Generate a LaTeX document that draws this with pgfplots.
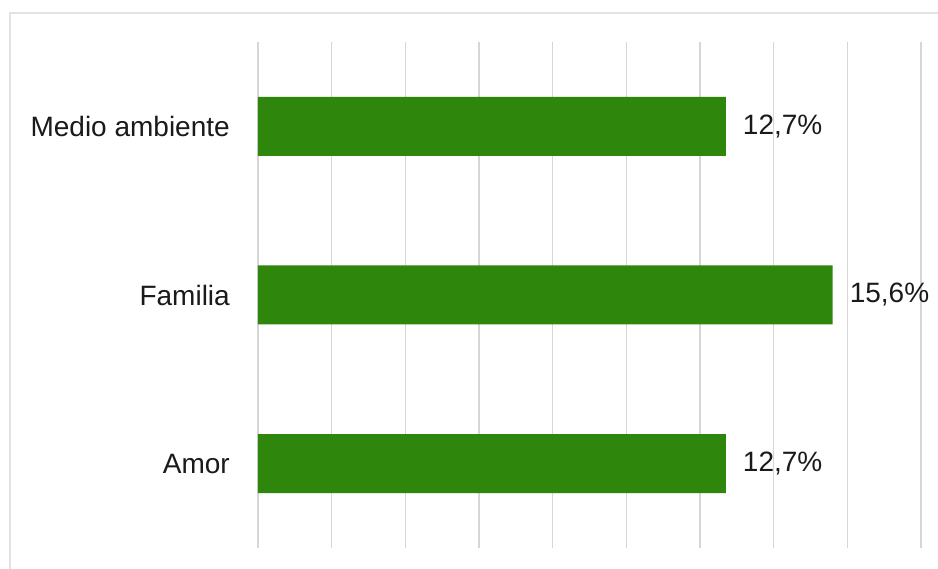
\documentclass[border=0pt]{standalone}
\usepackage{pgfplots}
\pgfplotsset{compat=1.18}
\usepackage{fontspec}
\setmainfont{Liberation Sans}
\definecolor{bargreen}{HTML}{2F860C}
\definecolor{gridgray}{HTML}{D6D6D6}
\definecolor{framegray}{HTML}{E3E3E3}
\definecolor{textcol}{HTML}{1A1A1A}
\begin{document}
\begin{tikzpicture}
\useasboundingbox (0,0) rectangle (938pt,-569pt);
\fill[white] (0,0) rectangle (938pt,-569pt);
\draw[framegray, line width=2pt] (9.5pt,-575pt) -- (9.5pt,-13pt) -- (945pt,-13pt);
\begin{axis}[
  at={(258pt,-548pt)}, anchor=south west,
  scale only axis, width=663pt, height=506pt,
  xmin=0, xmax=18, ymin=-0.5, ymax=2.5,
  xbar, bar width=59pt,
  xtick={0,2,...,18}, xticklabels={},
  xmajorgrids, major grid style={gridgray, line width=1.3pt},
  axis line style={draw=none},
  major tick length=0pt,
  ytick={0,1,2},
  yticklabels={Amor,Familia,Medio ambiente},
  yticklabel style={font=\fontsize{28}{34}\selectfont, text=textcol, inner sep=0pt, anchor=east},
  yticklabel shift=28pt,
  nodes near coords,
  point meta=explicit symbolic,
  nodes near coords style={font=\fontsize{28}{34}\selectfont, text=textcol, inner sep=0pt, anchor=west, xshift=17pt},
  clip=false,
]
\addplot[fill=bargreen, draw=none] coordinates {
  (12.7,0) [12,7\%]
  (15.6,1) [15,6\%]
  (12.7,2) [12,7\%]
};
\end{axis}
\end{tikzpicture}
\end{document}
